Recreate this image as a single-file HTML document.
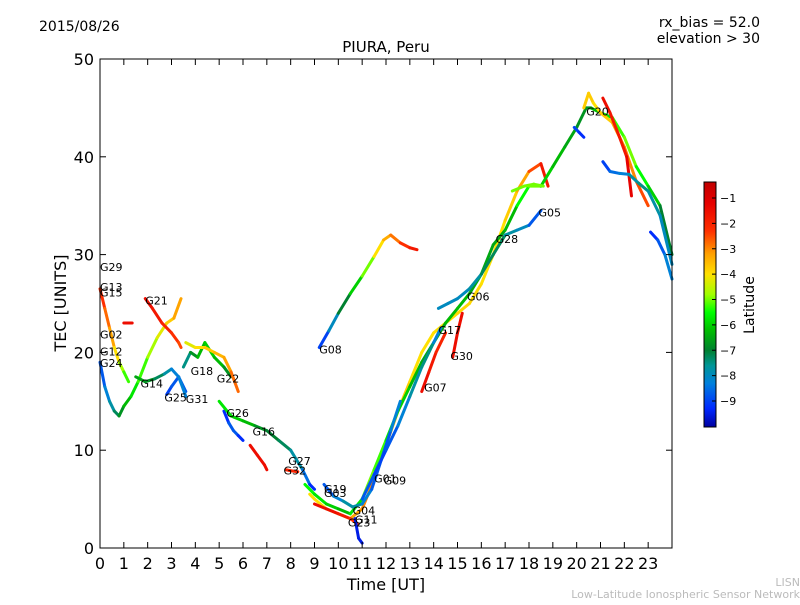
<!DOCTYPE html>
<html><head><meta charset="utf-8"><style>
body{margin:0;background:#fff;font-family:"Liberation Sans","DejaVu Sans",sans-serif}
svg text{font-family:"DejaVu Sans","Liberation Sans",sans-serif}
</style></head><body>
<svg id="c" width="800" height="600" viewBox="0 0 800 600">
<defs><linearGradient id="jet" x1="0" y1="1" x2="0" y2="0"></linearGradient></defs>
<rect x="0" y="0" width="800" height="600" fill="#fff"/>
<text x="39" y="31" font-size="14">2015/08/26</text>
<text x="760" y="27" font-size="14" text-anchor="end">rx_bias = 52.0</text>
<text x="760" y="43" font-size="14" text-anchor="end">elevation &gt; 30</text>
<text x="386" y="52" font-size="15" text-anchor="middle">PIURA, Peru</text>
<g id="plot"></g>
<rect x="100" y="59" width="572" height="489" fill="none" stroke="#000" stroke-width="1"/>
<g id="axes"></g>
<text x="386" y="590" font-size="16" text-anchor="middle">Time [UT]</text>
<text transform="translate(66,303) rotate(-90)" font-size="16" text-anchor="middle">TEC [UNITS]</text>
<rect x="704" y="182" width="12" height="245" fill="url(#jet)" stroke="#000" stroke-width="1"/>
<g id="cbar"></g>
<text transform="translate(754,305) rotate(-90)" font-size="14" text-anchor="middle">Latitude</text>
<text x="800" y="586" font-size="11" fill="#bbb" text-anchor="end">LISN</text>
<text x="800" y="598" font-size="11" fill="#bbb" text-anchor="end">Low-Latitude Ionospheric Sensor Network</text>
</svg>
<script>
const xTicks=[0,1,2,3,4,5,6,7,8,9,10,11,12,13,14,15,16,17,18,19,20,21,22,23];
const yTicks=[0,10,20,30,40,50];
const cbTicks=[-1,-2,-3,-4,-5,-6,-7,-8,-9];
const trackNames=["t1","t2","t3","t4","t5","t6","t7","t8","t9","t10","t11","t12","t13","t14","t15","t16","t17","t18","t19","t20","t21","t22","t23","t24","t25","t26","t27","t28","t29"];
const trackTimes=[
[0,0.2,0.4,0.6,0.8,1.0,1.2],
[0,0.2,0.4,0.6,0.8,1.0,1.3,1.6,2.0,2.4,2.8,3.1,3.4],
[1,1.15,1.35],
[1.9,2.2,2.6,3.0,3.3,3.4],
[1.5,1.9,2.3,2.7,3.0,3.3,3.6],
[2.8,3.0,3.3,3.5,3.6],
[3.5,3.8,4.1,4.4,4.8,5.2,5.5],
[3.6,4.0,4.4,4.8,5.2,5.5,5.8],
[5.2,5.4,5.6,5.8,6.0],
[5.0,5.5,6.0,6.5,7.0,7.5,8.0,8.5,8.8,9.0],
[6.3,6.6,6.9,7.0],
[7.8,8.0,8.3],
[8.8,9.0,9.5,10.0,10.5,11.0,11.5,12.0,12.5,13.0,13.5,14.0,14.5,15.0,15.5,16.0,16.5,17.0,17.5,18.0,18.5,18.8],
[8.6,9.0,9.5,10.0,10.5,11.0,11.5,12.0,12.5,13.0,13.5,14.0,14.5,15.0,15.5,16.0,16.5,17.0,17.5,18.0,18.5],
[9.0,9.5,10.0,10.5,10.8],
[9.4,9.8,10.2,10.6,11.0,11.4,11.8,12.2,12.6],
[10.7,10.85,11.0],
[11.0,11.5,12.0,12.5,13.0,13.5,14.0,14.3],
[14.2,14.6,15.0,15.5,16.0,16.5,17.0,17.5,18.0,18.5],
[13.5,13.8,14.1,14.5],
[14.8,15.0,15.2],
[9.2,9.6,10.0,10.5,11.0,11.5,11.9,12.2,12.6,13.0,13.3],
[18.5,19.0,19.5,20.0,20.4,20.6,21.0,21.5,22.0,22.5,23.0,23.5,24.0],
[19.9,20.1,20.3],
[20.3,20.5,20.7,21.0,21.5,22.0,22.5,23.0],
[21.1,21.4,21.8,22.1,22.3],
[21.1,21.4,21.8,22.2,22.6,23.0,23.5,24.0],
[23.1,23.4,23.7,24.0],
[17.3,17.8,18.2,18.6]];
const trackTec=[
[26.5,24.5,22.5,20.5,19,18,17],
[19,16.5,15,14,13.5,14.5,15.5,17,19.5,21.5,23,23.5,25.5],
[23,23,23],
[25.5,24.5,23,22,21,20.5],
[17.5,17,17.3,17.8,18.3,17.5,16],
[15.7,16.5,17.5,16.2,15.5],
[18.5,20,19.5,21,19.5,18.5,17.5],
[21,20.5,20.5,20,19.5,18,16],
[14,12.8,12,11.5,11],
[15,13.5,13,12.5,12,11,10,8,6.5,6],
[10.5,9.5,8.5,8],
[8,7.9,7.8],
[5.5,5,4,3.5,3,4,7,10.5,14,17,20,22,23,24,25,27,30,33.5,36.5,38.5,39.3,37],
[6.5,5.5,4.5,4,3.5,5,8,11,14,16.5,19,21,23,24.5,26,28,31,32.5,35,37,37],
[4.5,4,3.5,3,2.5],
[6.5,5.3,4.8,4.2,4.5,6,9,12,15],
[3,1,0.5],
[5,7.5,10,12.5,15.5,18.5,21,22.5],
[24.5,25,25.5,26.5,28,30,32,32.5,33,34.5],
[16,18,20,22],
[19.5,22,24],
[20.5,22.2,24,26,27.8,29.8,31.5,32,31.2,30.7,30.5],
[37,39,41,43,45,45,44.5,44,42,39,37,35,30],
[43,42.5,42],
[45,46.5,45.5,44.5,43.5,41,37.5,35],
[46,44.5,42,40,36],
[39.5,38.5,38.3,38.2,37.3,36.5,34,29],
[32.3,31.5,30,27.5],
[36.5,37,37.2,37]];
const trackLat=[
[-2,-2.5,-3,-3.5,-4.5,-5,-5.5],
[-9,-8.5,-8,-7.5,-7,-6.5,-6,-5.5,-5,-4.5,-4,-3.5,-3],
[-1.5,-1.5,-1.5],
[-1.5,-1.5,-2,-2,-2.5,-2.5],
[-6.5,-6.5,-7,-7.5,-8,-8.5,-9],
[-9,-9,-8.5,-8,-8.5],
[-8,-7,-6.5,-6,-6,-6.5,-7],
[-4.5,-4,-4,-3.5,-3.5,-3,-2.5],
[-9.5,-9,-8.5,-9,-9.5],
[-5.5,-6,-6,-6.5,-7,-7,-7.5,-8,-9,-9.5],
[-1.5,-1.5,-1.5,-1.5],
[-2,-2,-2],
[-4,-4,-4,-3.5,-3.5,-3,-3,-3.5,-3.5,-4,-4,-4,-4,-4,-3.8,-4,-4,-4,-3.5,-3,-2,-1.5],
[-5.5,-5.5,-6,-6,-6.5,-5,-5,-5.5,-6,-6,-6.5,-6.5,-6.5,-6,-6.5,-6.5,-6.5,-6.5,-6,-5,-5],
[-1.5,-1.5,-1.5,-2,-2.5],
[-9,-8.5,-8,-7.5,-8,-8.5,-9,-8.5,-8],
[-9.5,-9.5,-9.5],
[-8.5,-9,-9,-8.5,-8,-7.5,-7.5,-9],
[-8,-8,-8,-8,-7.5,-7,-7.5,-8,-8,-9.5],
[-1.5,-1.5,-2,-2],
[-1.5,-1.5,-1.5],
[-9.5,-8.5,-7.5,-6.5,-5.5,-4.5,-3.5,-3.2,-2.5,-2,-1.5],
[-6,-6,-6.5,-6.5,-7,-6.5,-6,-5.5,-5,-5,-6,-6,-8],
[-9,-9,-9.5],
[-4,-3.5,-4,-4,-3.5,-3,-3,-2],
[-1.5,-1.5,-2,-1.5,-1],
[-9.5,-8.5,-8.5,-8,-7.5,-7.5,-8,-8],
[-9.5,-9,-8.5,-8],
[-5,-5,-5,-5]];
const labelNames=["G29","G13","G15","G02","G12","G24","G21","G14","G25","G31","G18","G22","G26","G16","G27","G32","G19","G03","G08","G04","G11","G23","G01","G09","G07","G17","G30","G06","G28","G05","G20"];
const labelT=[0,0,0,0,0,0,1.9,1.7,2.7,3.6,3.8,4.9,5.3,6.4,7.9,7.7,9.4,9.4,9.2,10.6,10.7,10.4,11.5,11.9,13.6,14.2,14.7,15.4,16.6,18.4,20.4];
const labelV=[28.2,26.2,25.6,21.3,19.6,18.4,24.8,16.3,14.9,14.7,17.6,16.8,13.3,11.4,8.4,7.4,5.5,5.1,19.8,3.3,2.4,2.1,6.6,6.4,15.9,21.8,19.1,25.2,31.1,33.8,44.1];
const x=t=>100+t*(572/24), y=v=>548-v*(489/50);
const cy=l=>198+(-1-l)*(203/8);
const cmLat=[-10.02,-9.3,-8.3,-7.6,-7.0,-6.2,-5.5,-4.8,-4.0,-3.2,-2.3,-1.2,-0.37];
const cmCol=[[0,0,160],[0,40,255],[0,128,220],[0,150,150],[0,128,48],[0,190,0],[0,255,0],[160,255,0],[255,224,0],[255,160,0],[255,48,0],[230,0,0],[192,0,0]];
function jet(l){
 l=Math.max(cmLat[0],Math.min(cmLat[cmLat.length-1],l));
 for(let i=0;i<cmLat.length-1;i++){if(l<=cmLat[i+1]){const f=(l-cmLat[i])/(cmLat[i+1]-cmLat[i]);
  const c=cmCol[i].map((v,k)=>Math.round(v+f*(cmCol[i+1][k]-v)));return `rgb(${c})`;}}
 return `rgb(${cmCol[cmCol.length-1]})`;}
const NS="http://www.w3.org/2000/svg";
function mk(tag,attrs,parent){const e=document.createElementNS(NS,tag);for(const k in attrs)e.setAttribute(k,attrs[k]);parent.appendChild(e);return e;}
const grad=document.getElementById('jet');
cmLat.forEach((l,i)=>mk('stop',{offset:(l-cmLat[0])/(cmLat[cmLat.length-1]-cmLat[0]),'stop-color':`rgb(${cmCol[i]})`},grad));
const plot=document.getElementById('plot'),axes=document.getElementById('axes'),cb=document.getElementById('cbar');
trackTimes.forEach((ts,i)=>{
 const g=mk('g',{},plot);
 
 
 for(let j=0;j<ts.length-1;j++){
  const l=(trackLat[i][j]+trackLat[i][j+1])/2;
  const s=mk('line',{x1:x(ts[j]),y1:y(trackTec[i][j]),x2:x(ts[j+1]),y2:y(trackTec[i][j+1]),stroke:jet(l),'stroke-width':3,'stroke-linecap':'round'},g);
  
  
 }
});
labelNames.forEach((n,i)=>{
 const t=mk('text',{x:x(labelT[i]),y:y(labelV[i])-1,'font-size':11},plot);t.textContent=n;
 
 
});
xTicks.forEach(t=>{
 mk('line',{x1:x(t),y1:548,x2:x(t),y2:542,stroke:'#000'},axes);
 mk('line',{x1:x(t),y1:59,x2:x(t),y2:65,stroke:'#000'},axes);
 const tx=mk('text',{x:x(t),y:569,'font-size':16,'text-anchor':'middle'},axes);tx.textContent=t;
 
 
});
yTicks.forEach(v=>{
 mk('line',{x1:100,y1:y(v),x2:106,y2:y(v),stroke:'#000'},axes);
 mk('line',{x1:672,y1:y(v),x2:666,y2:y(v),stroke:'#000'},axes);
 const tx=mk('text',{x:94,y:y(v)+6,'font-size':16,'text-anchor':'end'},axes);tx.textContent=v;
 
 
});
cbTicks.forEach(l=>{
 mk('line',{x1:712,y1:cy(l),x2:716,y2:cy(l),stroke:'#000'},cb);
 const tx=mk('text',{x:720,y:cy(l)+4,'font-size':11},cb);tx.textContent='\u2212'+(-l);
 
 
});
</script>
</body></html>
